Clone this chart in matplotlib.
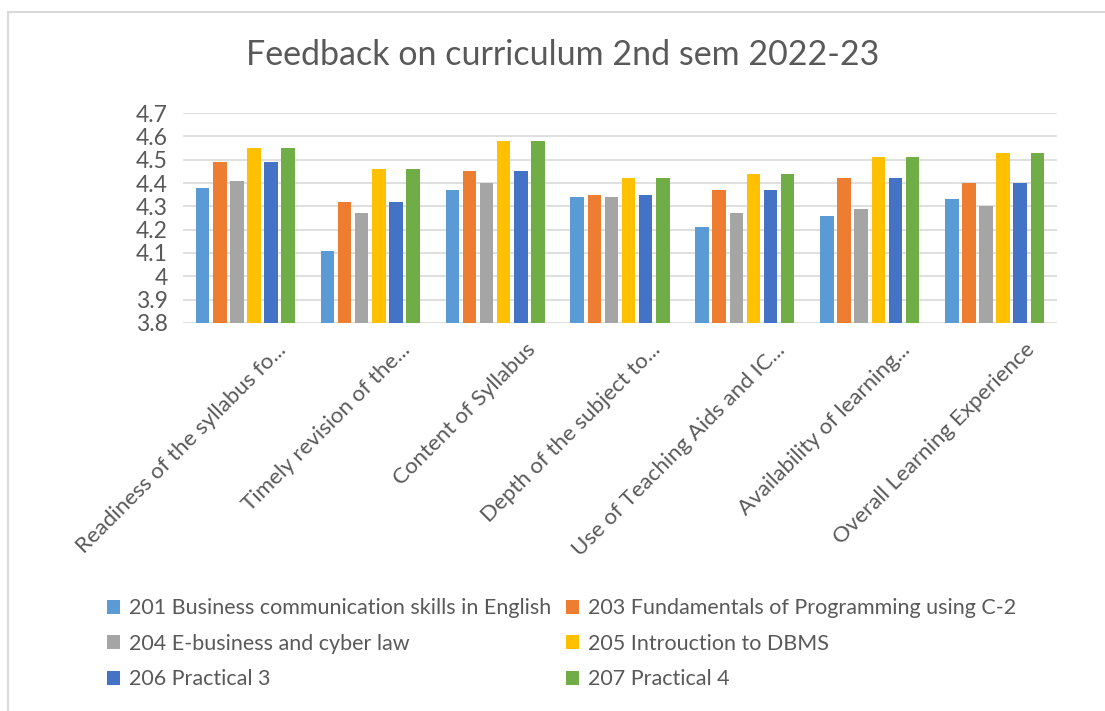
import numpy as np
import matplotlib.pyplot as plt
import matplotlib.transforms as mtransforms
from matplotlib.patches import Rectangle

plt.rcParams['font.family'] = ['Lato', 'DejaVu Sans']

categories = [
    "Readiness of the syllabus fo...",
    "Timely revision of the...",
    "Content of Syllabus",
    "Depth of the subject to...",
    "Use of Teaching Aids and IC...",
    "Availability of learning...",
    "Overall Learning Experience",
]
series_names = [
    "201 Business communication skills in English",
    "203 Fundamentals of Programming using C-2",
    "204 E-business and cyber law",
    "205 Introuction to DBMS",
    "206 Practical 3",
    "207 Practical 4",
]
s201 = [4.38, 4.11, 4.37, 4.34, 4.21, 4.26, 4.33]
s203 = [4.49, 4.32, 4.45, 4.35, 4.37, 4.42, 4.40]
s204 = [4.41, 4.27, 4.40, 4.34, 4.27, 4.29, 4.30]
s205 = [4.55, 4.46, 4.58, 4.42, 4.44, 4.51, 4.53]
s206 = [4.49, 4.32, 4.45, 4.35, 4.37, 4.42, 4.40]
s207 = [4.55, 4.46, 4.58, 4.42, 4.44, 4.51, 4.53]
yticks = [3.8, 3.9, 4.0, 4.1, 4.2, 4.3, 4.4, 4.5, 4.6, 4.7]
ytick_labels = ["3.8", "3.9", "4", "4.1", "4.2", "4.3", "4.4", "4.5", "4.6", "4.7"]

colors = ["#5B9BD5", "#ED7D31", "#A5A5A5", "#FFC000", "#4472C4", "#70AD47"]
text_col = "#595959"

fig = plt.figure(figsize=(11.05, 7.11), dpi=100)
ax = fig.add_axes([183 / 1105, 1 - 323 / 711, 874 / 1105, 210 / 711])

x = np.arange(len(categories))
all_series = [s201, s203, s204, s205, s206, s207]
slot = 0.137
bars = []
for i, (vals, name, c) in enumerate(zip(all_series, series_names, colors)):
    offs = (i - 2.5) * slot
    b = ax.bar(x + offs, np.array(vals) - 3.8, bottom=3.8, width=0.108,
               color=c, label=name, zorder=3)
    bars.append(b)

ax.set_xlim(-0.5, len(categories) - 0.5)
ax.set_ylim(3.8, 4.7)
ax.set_yticks(yticks)
ax.set_yticklabels(ytick_labels, fontsize=16.5, color=text_col)
ax.yaxis.grid(True, color="#d9d9d9", linewidth=1.2, zorder=0)
ax.tick_params(axis='y', length=0, pad=11)
for s in ax.spines.values():
    s.set_visible(False)
ax.set_xticks(x)
ax.set_xticklabels(categories, rotation=45, ha='right', rotation_mode='anchor',
                   fontsize=16, color=text_col)
ax.tick_params(axis='x', length=0, pad=12)
shift = mtransforms.ScaledTranslation(30 / 100, 0, fig.dpi_scale_trans)
for lbl in ax.get_xticklabels():
    lbl.set_transform(lbl.get_transform() + shift)

fig.text(563 / 1105, 1 - 55 / 711, "Feedback on curriculum 2nd sem 2022-23",
         ha='center', va='center', fontsize=24.5, color=text_col)

# legend, row-wise order
order = [0, 2, 4, 1, 3, 5]
leg = fig.legend([bars[i] for i in order], [series_names[i] for i in order],
                 ncol=2, loc='upper left', bbox_to_anchor=(88 / 1105, 1 - 579 / 711),
                 frameon=False, fontsize=15.5, handlelength=0.6, handleheight=0.6,
                 handletextpad=0.4, columnspacing=0.7, labelspacing=0.72,
                 labelcolor=text_col)

fig.patches.append(Rectangle((8 / 1105, -0.1), 1.2, 1 - 12 / 711 + 0.1,
                             transform=fig.transFigure, fill=False,
                             edgecolor="#d9d9d9", linewidth=1.5))

fig.savefig("out.png", dpi=100)
